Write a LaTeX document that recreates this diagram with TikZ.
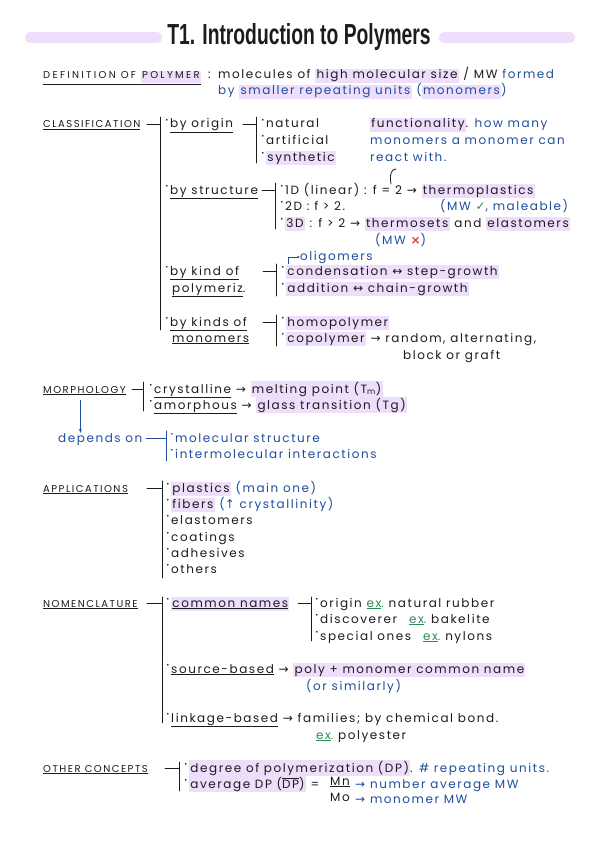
\documentclass[tikz,border=0pt]{standalone}
\usepackage{fontspec}
\usepackage{graphicx}
\usetikzlibrary{arrows.meta}
\setmainfont{Poppins}[LetterSpace=13]
\newfontfamily\headf{Poppins}[LetterSpace=15]
\newfontfamily\headwf{Poppins}[LetterSpace=23]
\newfontfamily\symf{DejaVu Sans}
\newfontfamily\titlef{Liberation Sans}
\definecolor{ink}{HTML}{1C1C1C}
\definecolor{bl}{HTML}{1F4E9E}
\definecolor{hl}{HTML}{EEDDFB}
\definecolor{gr}{HTML}{2E8B57}
\definecolor{rd}{HTML}{E53935}
\newcommand\hl[1]{{\setlength\fboxsep{1.2pt}\colorbox{hl}{\vphantom{Ay}#1}}}
\newcommand\bu{\raisebox{.45em}{\scalebox{.5}{\symf •}}\hspace{1.5pt}}
\newcommand\ra{{\symf →}}
\newcommand\lra{{\symf ↔}}
\newcommand\ex{\textcolor{gr}{\underline{ex}.}}
\tikzset{
  txt/.style={anchor=base west, inner sep=0pt, text=ink, font=\fontsize{12}{14}\selectfont},
  btxt/.style={txt, text=bl},
  head/.style={anchor=base west, inner sep=0pt, text=ink, font=\headf\fontsize{10}{12}\selectfont},
  brk/.style={draw=ink, line width=0.9pt, line cap=round},
  bbrk/.style={brk, draw=bl},
  barfill/.style={fill=hl, rounded corners=5pt},
}
\begin{document}
\begin{tikzpicture}[x=1pt,y=-1pt]
\useasboundingbox (0,0) rectangle (599,848);
\fill[white] (0,0) rectangle (599,848);
% title
\fill[barfill] (25,32) rectangle (162,43);
\fill[barfill] (439,32) rectangle (575,43);
\node[text=ink, font=\titlef\bfseries\fontsize{29}{31}\selectfont] (title) at (299,37) {\scalebox{0.665}[1]{T1. Introduction to Polymers}};
% definition
\node[head, font=\headwf\fontsize{10}{12}\selectfont] (defh) at (43,79) {\underline{DEFINITION OF \hl{POLYMER}}};
\node[txt] (colon1) at (208,79) {:};
\node[txt] (def1) at (218,79) {molecules of \hl{high molecular size} / MW \textcolor{bl}{formed}};
\node[btxt] (def2) at (218,95) {by \hl{smaller repeating units} (\hl{monomers})};
% classification
\node[head] (cls) at (43,128) {\underline{CLASSIFICATION}};
\draw[brk] (147,124) -- (160,124) (160,117) -- (160,330);
\node[txt] (orig) at (165,128) {\bu\underline{by origin}};
\draw[brk] (243,124) -- (256,124) (256,117) -- (256,163);
\node[txt] (nat) at (261,128) {\bu natural};
\node[txt] (art) at (261,144) {\bu artificial};
\node[txt] (syn) at (261,161) {\bu \hl{synthetic}};
\node[txt] (func1) at (370,128) {\hl{functionality}. \textcolor{bl}{how many}};
\node[btxt] (func2) at (370,144) {monomers a monomer can};
\node[btxt] (func3) at (370,161) {react with.};
\draw[ink, line width=0.8pt, line cap=round] (391,184) .. controls (390,178) and (390,173) .. (393,170) -- (396,169);
\node[txt] (struc) at (165,194) {\bu\underline{by structure}};
\draw[brk] (262,190) -- (275,190) (275,183) -- (275,229);
\node[txt] (d1) at (280,194) {\bu 1D (linear) : f = 2 \ra\ \hl{thermoplastics}};
\node[txt] (d2) at (280,210) {\bu 2D : f > 2.};
\node[btxt] (d2b) at (440,210) {(MW \textcolor{gr}{\symf ✓}, maleable)};
\node[txt] (d3) at (280,227) {\bu \hl{3D} : f > 2 \ra\ \hl{thermosets} and \hl{elastomers}};
\node[btxt] (d3b) at (375,244) {(MW \textcolor{rd}{\symf\bfseries ×})};
\node[btxt] (olig) at (300,260) {oligomers};
\coordinate (ohook) at (288,264);
\draw[bl, line width=0.8pt, -{Stealth[length=3pt]}] (ohook) |- (olig.west);
\node[txt] (kind1) at (165,275) {\bu\underline{by kind of}};
\node[txt] (kind2) at (172,292) {\underline{polymeriz}.};
\draw[brk] (263,271) -- (276,271) (276,264) -- (276,296);
\node[txt] (cond) at (281,275) {\bu \hl{condensation \lra\ step-growth}};
\node[txt] (addi) at (281,292) {\bu \hl{addition \lra\ chain-growth}};
\node[txt] (mon1) at (165,326) {\bu\underline{by kinds of}};
\node[txt] (mon2) at (172,342) {\underline{monomers}};
\draw[brk] (263,322) -- (276,322) (276,315) -- (276,346);
\node[txt] (homo) at (281,326) {\bu \hl{homopolymer}};
\node[txt] (copo) at (281,342) {\bu \hl{copolymer} \ra\ random, alternating,};
\node[txt] (block) at (403,359) {block or graft};
% morphology
\node[head] (morph) at (43,393) {\underline{MORPHOLOGY}};
\draw[brk] (132,389) -- (143,389) (143,382) -- (143,411);
\node[txt] (cry) at (149,393) {\bu \underline{crystalline} \ra\ \hl{melting point (T\textsubscript{m})}};
\node[txt] (amo) at (149,409) {\bu \underline{amorphous} \ra\ \hl{glass transition (Tg)}};
\node[btxt] (dep) at (58,442) {depends on};
\draw[bl, line width=0.8pt, -{Stealth[length=4pt]}] ([xshift=-4pt,yshift=-5pt]morph.south) -- ([xshift=-4pt]morph.south |- dep.north);
\draw[bbrk] (146,438) -- (166,438) (166,431) -- (166,461);
\node[btxt] (ms) at (170,442) {\bu molecular structure};
\node[btxt] (ii) at (170,458) {\bu intermolecular interactions};
% applications
\node[head] (app) at (43,492) {\underline{APPLICATIONS}};
\draw[brk] (147,488) -- (162,488) (162,481) -- (162,578);
\node[txt] (pla) at (166,492) {\bu \hl{plastics} \textcolor{bl}{(main one)}};
\node[txt] (fib) at (166,508) {\bu \hl{fibers} \textcolor{bl}{({\symf ↑} crystallinity)}};
\node[txt] (ela) at (166,524) {\bu elastomers};
\node[txt] (coa) at (166,541) {\bu coatings};
\node[txt] (adh) at (166,557) {\bu adhesives};
\node[txt] (oth) at (166,573) {\bu others};
% nomenclature
\node[head] (nom) at (43,607) {\underline{NOMENCLATURE}};
\draw[brk] (147,603) -- (162,603) (162,597) -- (162,723);
\node[txt] (cn) at (166,607) {\bu \hl{\underline{common names}}};
\draw[brk] (298,603) -- (311,603) (311,597) -- (311,641);
\node[txt] (ori) at (315,607) {\bu origin \ex\ natural rubber};
\node[txt] (disc) at (315,623) {\bu discoverer\quad \ex\ bakelite};
\node[txt] (spec) at (315,640) {\bu special ones\quad \ex\ nylons};
\node[txt] (src) at (166,673) {\bu \underline{source-based} \ra\ \hl{poly + monomer common name}};
\node[btxt] (sim) at (306,690) {(or similarly)};
\node[txt] (link) at (166,722) {\bu \underline{linkage-based} \ra\ families; by chemical bond.};
\node[txt] (poly) at (316,739) {\ex\ polyester};
% other concepts
\node[head] (othc) at (43,772) {\underline{OTHER CONCEPTS}};
\draw[brk] (165,768) -- (179,768) (179,762) -- (179,791);
\node[txt] (dp) at (184,772) {\bu \hl{degree of polymerization (DP)}. \textcolor{bl}{\# repeating units.}};
\node[txt] (adp) at (184,788) {\bu \hl{average DP ($\overline{\hbox{DP}}$)} =};
\node[txt, anchor=base] (mn) at (340,785) {Mn};
\node[txt, anchor=base] (mo) at (340,801) {Mo};
\draw[ink, line width=0.7pt] ([yshift=-1.5pt]mn.south west) -- ([yshift=-1.5pt]mn.south east);
\node[btxt] (nam) at (355,788) {\ra\ number average MW};
\node[btxt] (mmw) at (355,803) {\ra\ monomer MW};
\end{tikzpicture}
\end{document}
